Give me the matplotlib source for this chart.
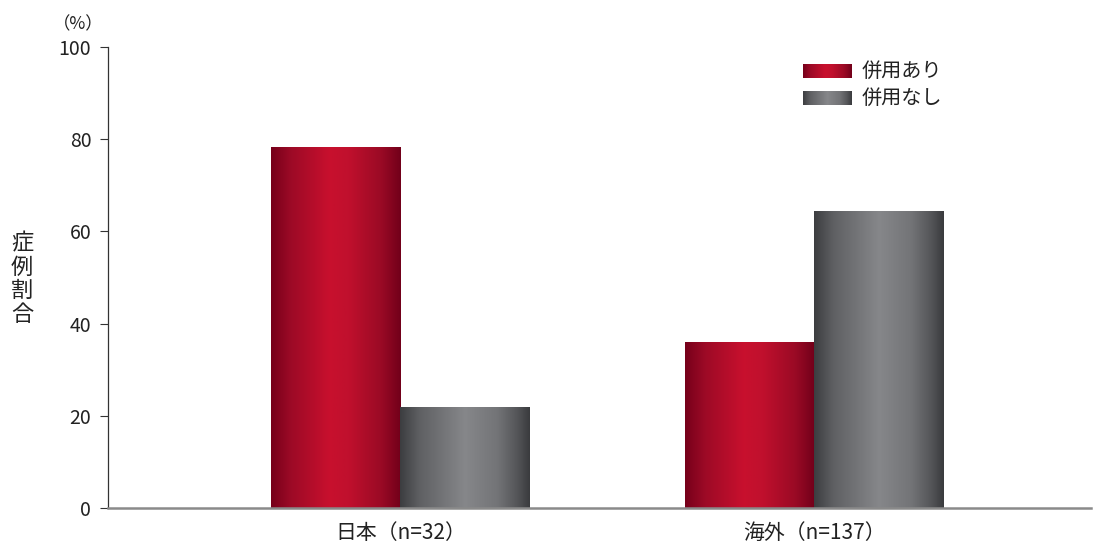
import numpy as np
import matplotlib.pyplot as plt
from matplotlib.colors import LinearSegmentedColormap

plt.rcParams['font.family'] = ['Noto Sans CJK JP', 'DejaVu Sans']

# データ
categories = ['日本（n=32）', '海外（n=137）']
series_names = ['併用あり', '併用なし']
with_combo = [78.1, 35.8]      # 併用あり (%)
without_combo = [21.9, 64.2]   # 併用なし (%)
yticks = [0, 20, 40, 60, 80, 100]

# グラデーション用カラーマップ
red_cmap = LinearSegmentedColormap.from_list('red', [
    (0.0, '#76001a'), (0.15, '#9c0a26'), (0.45, '#c8102e'),
    (0.6, '#c0102d'), (0.85, '#9a0a25'), (1.0, '#72001a')])
gray_cmap = LinearSegmentedColormap.from_list('gray', [
    (0.0, '#3c3d40'), (0.15, '#5f6063'), (0.5, '#86878a'),
    (0.75, '#737477'), (0.9, '#555659'), (1.0, '#3a3b3e')])
grad = np.linspace(0, 1, 256).reshape(1, -1)

fig = plt.figure(figsize=(10.93, 5.47), dpi=100)
ax = fig.add_axes([0.0988, 0.0713, 0.899, 0.843])

width = 0.312
x = np.arange(len(categories))


def gradient_bars(xs, heights, cmap):
    bars = ax.bar(xs, heights, width, color='none', edgecolor='none')
    for b in bars:
        x0, y0 = b.get_x(), b.get_y()
        ax.imshow(grad, extent=[x0, x0 + b.get_width(), y0, y0 + b.get_height()],
                  aspect='auto', cmap=cmap, zorder=2)


gradient_bars(x - width / 2, with_combo, red_cmap)
gradient_bars(x + width / 2, without_combo, gray_cmap)

ax.set_xlim(-0.707, 1.668)
ax.set_ylim(0, 100)
ax.set_yticks(yticks)
ax.tick_params(axis='y', direction='out', length=6, width=0.8, color='#333333',
               labelsize=14, pad=6, labelcolor='#222222')
ax.set_xticks(x)
ax.set_xticklabels(categories, fontsize=15, color='#222222')
ax.tick_params(axis='x', length=0, pad=10)

for s in ['top', 'right']:
    ax.spines[s].set_visible(False)
ax.spines['left'].set_color('#333333')
ax.spines['left'].set_linewidth(0.9)
ax.spines['bottom'].set_color('#8a8a8a')
ax.spines['bottom'].set_linewidth(1.8)
ax.spines['bottom'].set_zorder(3)

# 単位と縦書きラベル
fig.text(78 / 1093, 1 - 24 / 547, '（%）', fontsize=12.5, color='#222222',
         ha='center', va='center')
fig.text(22 / 1093, 1 - 279 / 547, '症\n例\n割\n合', fontsize=16, color='#222222',
         ha='center', va='center', linespacing=1.05)

# 凡例（グラデーション付き）
for i, (name, cmap) in enumerate(zip(series_names, [red_cmap, gray_cmap])):
    top = 64 + i * 27
    sw = fig.add_axes([803 / 1093, 1 - (top + 14) / 547, 49 / 1093, 14 / 547])
    sw.imshow(grad, aspect='auto', cmap=cmap)
    sw.axis('off')
    fig.text(862 / 1093, 1 - (top + 7) / 547, name, fontsize=14.5, color='#222222',
             ha='left', va='center')

plt.savefig('out.png', dpi=100)
